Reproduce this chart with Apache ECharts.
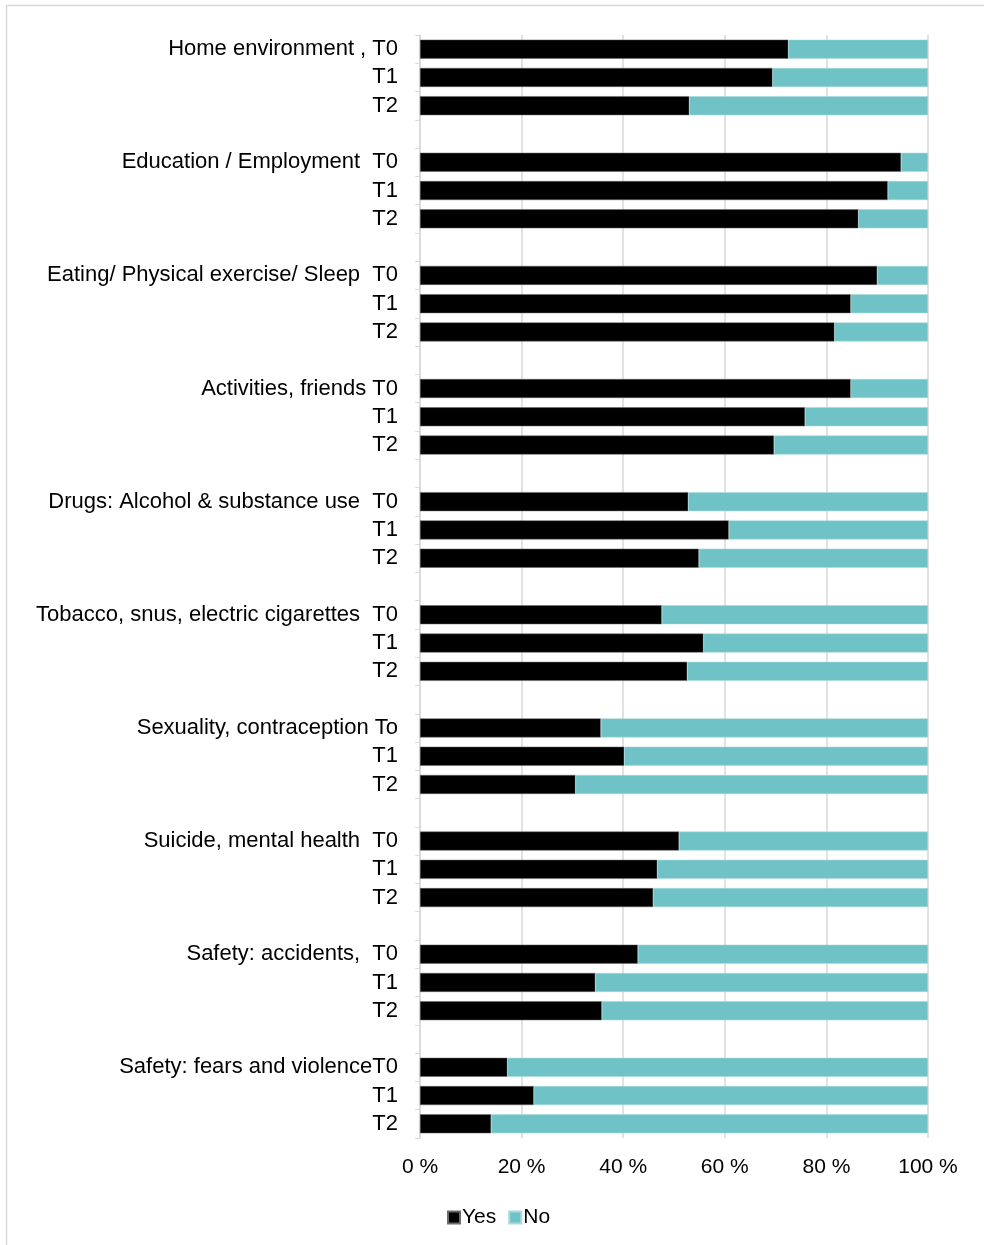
<!DOCTYPE html>
<html>
<head>
<meta charset="utf-8">
<script src="https://cdn.jsdelivr.net/npm/echarts@6/dist/echarts.min.js"></script>
<style>
	html, body { margin: 0; padding: 0; background: #fff; }
	#chart { width: 984px; height: 1245px; }
</style>
</head>
<body>
<div id="chart"></div>
<script>
// first row label of each topic (topic name + first wave), as written in the figure
var topics = [
	'Home environment , T0',
	'Education / Employment  T0',
	'Eating/ Physical exercise/ Sleep  T0',
	'Activities, friends T0',
	'Drugs: Alcohol & substance use  T0',
	'Tobacco, snus, electric cigarettes  T0',
	'Sexuality, contraception To',
	'Suicide, mental health  T0',
	'Safety: accidents,  T0',
	'Safety: fears and violenceT0'
];
var laterWaves = ['T1', 'T2'];

// share answering "Yes" (%), per wave
var yesT0 = [72.5, 94.7, 90.0, 84.8, 52.8, 47.6, 35.6, 51.0, 42.9, 17.2];
var yesT1 = [69.4, 92.1, 84.8, 75.8, 60.8, 55.8, 40.2, 46.7, 34.5, 22.4];
var yesT2 = [53.0, 86.3, 81.6, 69.7, 54.9, 52.6, 30.6, 45.9, 35.8, 14.0];

var seriesNames = ['Yes', 'No'];
var tickLabels = ['0 %', '20 %', '40 %', '60 %', '80 %', '100 %'];

var categories = [],
	yesData = [],
	noData = [];

buildRows();

function buildRows() {
	for (var i = 0; i < topics.length; i++) {
		var vals = [yesT0[i], yesT1[i], yesT2[i]];
		var labels = [topics[i]].concat(laterWaves);
		for (var j = 0; j < 3; j++) {
			categories.push(labels[j]);
			yesData.push(vals[j]);
			noData.push(+(100 - vals[j]).toFixed(1));
		}
		// empty row between topics
		if (i < topics.length - 1) {
			categories.push('');
			yesData.push(null);
			noData.push(null);
		}
	}
}

var font = '"Liberation Sans", Arial, sans-serif';
var chart = echarts.init(document.getElementById('chart'));
chart.setOption({
	animation: false,
	backgroundColor: '#ffffff',
	textStyle: {
		fontFamily: font
	},
	graphic: [{
		type: 'rect',
		shape: { x: 6.5, y: 5.5, width: 1200, height: 1400 },
		style: { fill: 'none', stroke: '#d9d9d9', lineWidth: 1.5 },
		silent: true
	}],
	grid: {
		left: 420,
		right: 56,
		top: 35,
		height: 1103,
		containLabel: false
	},
	legend: {
		data: seriesNames,
		left: 442,
		top: 1202,
		itemWidth: 12,
		itemHeight: 12,
		itemGap: 12,
		icon: 'rect',
		textStyle: {
			fontSize: 21,
			color: '#000',
			fontFamily: font,
			padding: [0, 0, 0, -3]
		}
	},
	xAxis: [{
		type: 'value',
		min: 0,
		max: 100,
		interval: 20,
		axisLine: { show: false },
		axisTick: { show: false },
		axisLabel: {
			fontSize: 21,
			color: '#000',
			margin: 19,
			fontFamily: font,
			formatter: function(v) {
				return tickLabels[Math.round(v / 20)];
			}
		},
		splitLine: {
			show: true,
			lineStyle: { color: '#d9d9d9', width: 1.5 }
		}
	}],
	yAxis: [{
		type: 'category',
		inverse: true,
		data: categories,
		axisLine: {
			show: true,
			lineStyle: { color: '#d9d9d9', width: 1.5 }
		},
		axisTick: {
			show: true,
			interval: 0,
			length: 5,
			lineStyle: { color: '#d9d9d9' }
		},
		axisLabel: {
			interval: 0,
			fontSize: 22,
			color: '#000',
			margin: 22,
			fontFamily: font
		}
	}],
	series: [{
		name: seriesNames[0],
		type: 'bar',
		stack: 'total',
		barWidth: 19,
		itemStyle: {
			color: '#000000',
			borderColor: '#6b6b6b',
			borderWidth: 0.5
		},
		data: yesData
	}, {
		name: seriesNames[1],
		type: 'bar',
		stack: 'total',
		barWidth: 19,
		itemStyle: {
			color: '#6fc3c7',
			borderColor: '#a9dadc',
			borderWidth: 0.5
		},
		data: noData
	}]
});
</script>
</body>
</html>
